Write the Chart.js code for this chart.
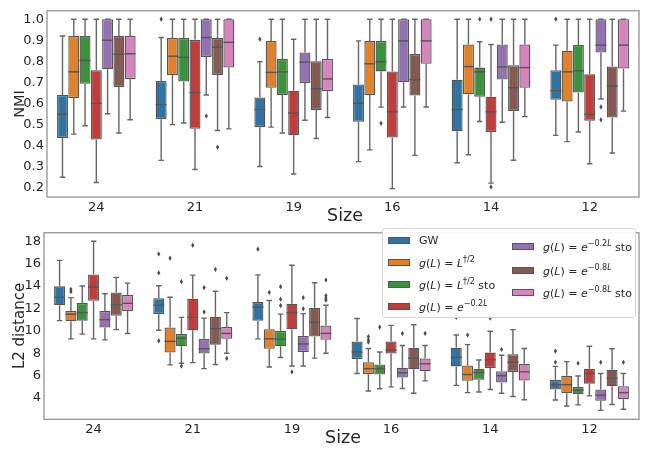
<!DOCTYPE html>
<html>
<head>
<meta charset="utf-8">
<script src="https://cdn.jsdelivr.net/npm/chart.js@4.4.1/dist/chart.umd.min.js"></script>
<style>
  body { margin: 0; background: #fff; font-family: "DejaVu Sans", sans-serif; color: #262626; }
  #wrap { position: relative; width: 649px; height: 454px; overflow: hidden; }
  canvas { position: absolute; left: 0; }
  .title { position: absolute; white-space: nowrap; transform: translate(-50%, -50%); }
  .ytitle { transform: translate(-50%, -50%) rotate(-90deg); }
  #legend { position: absolute; left: 382px; top: 228px; width: 252px; height: 88px;
            background: rgba(255,255,255,0.9); border: 1px solid #d6d6d6; border-radius: 3px; font-size: 11px; }
  .entry { position: absolute; display: flex; align-items: center; white-space: nowrap; }
  .patch { width: 22px; height: 7px; border: 1px solid #555; box-sizing: border-box; margin-right: 9px; }
  .entry i { font-family: "DejaVu Sans", sans-serif; font-style: oblique; }
  sup { font-size: 8px; vertical-align: 5px; }
</style>
</head>
<body>
<div id="wrap">
  <canvas id="nmi" width="649" height="222" style="top:0"></canvas>
  <canvas id="l2" width="649" height="232" style="top:222px"></canvas>
  <div class="title ytitle" style="left:19px; top:104px; font-size:14.5px">NMI</div>
  <div class="title" style="left:345px; top:215px; font-size:17.5px">Size</div>
  <div class="title ytitle" style="left:19px; top:326px; font-size:15px">L2 distance</div>
  <div class="title" style="left:343px; top:437px; font-size:17.5px">Size</div>
  <div id="legend"></div>
</div>
<script>
const sizes = ['24', '21', '19', '16', '14', '12'];
const seriesColors = ['#3274A1', '#E1812C', '#3A923A', '#C03D3E', '#9372B2', '#845B53', '#D684BD'];
const nmiTicks = [0.2, 0.3, 0.4, 0.5, 0.6, 0.7, 0.8, 0.9, 1.0];
const l2Ticks = [4, 6, 8, 10, 12, 14, 16, 18];

// five-number summaries per size: [low whisker, q1, median, q3, high whisker]
const nmiGW    = [[0.249,0.436,0.548,0.640,0.920],[0.329,0.525,0.594,0.706,0.913],[0.300,0.487,0.571,0.628,0.798],[0.323,0.513,0.600,0.690,0.897],[0.318,0.467,0.571,0.712,1.000],[0.448,0.617,0.660,0.758,0.877]];
const nmiSqrt  = [[0.454,0.625,0.750,0.920,1.000],[0.499,0.735,0.824,0.911,1.000],[0.487,0.674,0.747,0.897,1.000],[0.379,0.640,0.788,0.896,1.000],[0.356,0.643,0.775,0.880,1.000],[0.418,0.609,0.750,0.850,1.000]];
const nmiSqrtS = [[0.494,0.693,0.804,0.920,1.000],[0.507,0.704,0.819,0.911,1.000],[0.459,0.640,0.750,0.811,1.000],[0.582,0.752,0.798,0.896,1.000],[0.514,0.631,0.750,0.770,0.893],[0.464,0.652,0.755,0.877,1.000]];
const nmiE02   = [[0.224,0.428,0.600,0.758,1.000],[0.286,0.479,0.651,0.902,1.000],[0.264,0.448,0.554,0.660,0.905],[0.195,0.438,0.560,0.752,1.000],[0.221,0.464,0.560,0.632,0.880],[0.313,0.517,0.548,0.738,1.000]];
const nmiE02S  = [[0.551,0.762,0.900,1.000,1.000],[0.640,0.821,0.913,1.000,1.000],[0.520,0.697,0.796,0.842,1.000],[0.583,0.700,0.897,1.000,1.000],[0.510,0.713,0.773,0.880,1.000],[0.621,0.842,0.877,1.000,1.000]];
const nmiE08   = [[0.459,0.678,0.834,0.920,1.000],[0.471,0.735,0.867,0.911,1.000],[0.433,0.568,0.670,0.800,1.000],[0.353,0.637,0.713,0.835,1.000],[0.330,0.563,0.674,0.781,1.000],[0.364,0.533,0.683,0.775,1.000]];
const nmiE08S  = [[0.522,0.716,0.836,0.920,1.000],[0.479,0.770,0.890,1.000,1.000],[0.533,0.658,0.716,0.811,1.000],[0.583,0.788,0.897,1.000,1.000],[0.537,0.674,0.770,0.880,1.000],[0.563,0.766,0.877,1.000,1.000]];

// outliers per series, per size
const nmiOutGW    = [[], [1.0], [0.905], [], [], [1.0]];
const nmiOutSqrt  = [[], [], [], [], [], []];
const nmiOutSqrtS = [[], [], [], [0.505], [1.0], []];
const nmiOutE02   = [[], [], [], [], [1.0, 0.203], []];
const nmiOutE02S  = [[], [0.54], [], [], [], [0.583, 0.522]];
const nmiOutE08   = [[], [0.392], [], [], [], []];
const nmiOutE08S  = [[], [], [], [], [], []];

const l2GW    = [[10.91,12.29,13.00,13.97,16.29],[10.06,11.49,12.29,12.91,14.03],[9.29,10.91,12.11,12.57,15.00],[6.20,7.49,8.11,9.06,11.11],[5.14,6.83,7.63,8.49,9.63],[3.83,4.77,5.20,5.63,6.83]];
const l2Sqrt  = [[9.29,10.86,11.49,11.77,12.97],[6.97,8.06,9.06,10.31,13.00],[6.77,8.40,9.29,10.14,12.71],[4.63,6.14,6.63,7.20,8.43],[4.49,5.54,6.11,6.91,8.77],[3.29,4.43,5.20,6.00,7.26]];
const l2SqrtS = [[9.71,10.91,11.63,12.49,14.00],[7.11,8.63,9.34,9.71,11.20],[7.63,8.63,9.26,10.00,11.49],[4.83,6.11,6.63,7.00,8.11],[4.54,5.63,6.29,6.63,7.40],[3.40,4.34,4.71,5.00,5.97]];
const l2E02   = [[9.29,12.69,13.91,15.03,18.00],[7.17,10.06,11.20,12.86,14.97],[6.86,10.14,11.63,12.43,15.86],[5.00,7.97,8.29,9.06,10.49],[4.77,6.69,7.43,8.06,9.97],[4.20,5.29,6.20,6.63,8.63]];
const l2E02S  = [[9.20,10.29,11.00,11.77,13.31],[6.63,7.97,8.40,9.29,11.14],[6.86,8.11,8.83,9.54,11.54],[4.86,5.83,6.26,6.71,8.69],[4.43,5.40,6.00,6.40,7.83],[2.91,3.77,4.26,4.77,6.20]];
const l2E08   = [[10.11,11.34,12.34,13.43,14.77],[7.00,8.77,10.20,11.26,13.54],[7.57,9.49,10.77,12.06,14.29],[4.43,6.57,7.57,8.49,10.54],[4.14,6.34,7.20,7.91,10.11],[3.43,5.06,5.77,6.54,8.40]];
const l2E08S  = [[9.77,11.77,12.46,13.20,14.26],[8.00,9.29,9.77,10.34,11.63],[8.00,9.20,9.77,10.49,12.29],[5.54,6.40,7.06,7.54,8.69],[3.86,5.57,6.34,7.06,8.43],[3.00,3.91,4.49,5.06,6.20]];

const l2OutGW    = [[], [16.86, 15.17, 9.11], [17.29], [], [11.2], [8.2, 7.2]];
const l2OutSqrt  = [[13.71, 13.49], [16.49], [13.43], [9.49, 9.2, 9.0], [9.63], []];
const l2OutSqrtS = [[], [14.4, 6.86], [13.94, 12.83, 12.26], [10.34], [], [7.11]];
const l2OutE02   = [[], [17.63], [6.34], [], [11.14], []];
const l2OutE02S  = [[], [13.86, 11.69], [12.97, 11.97], [9.77], [8.34], [7.2]];
const l2OutE08   = [[], [15.49], [], [], [], []];
const l2OutE08S  = [[], [14.69, 7.54], [14.54, 13.14, 12.91, 12.74], [9.77], [], [7.2]];

const legendLabels = [
  'GW',
  '<i>g</i>(<i>L</i>) = <i>L</i><sup>†/2</sup>',
  '<i>g</i>(<i>L</i>) = <i>L</i><sup>†/2</sup> sto',
  '<i>g</i>(<i>L</i>) = <i>e</i><sup>−0.2<i>L</i></sup>',
  '<i>g</i>(<i>L</i>) = <i>e</i><sup>−0.2<i>L</i></sup> sto',
  '<i>g</i>(<i>L</i>) = <i>e</i><sup>−0.8<i>L</i></sup>',
  '<i>g</i>(<i>L</i>) = <i>e</i><sup>−0.8<i>L</i></sup> sto'
];

const edge = '#555555';
const whisker = '#666666';
const tickFont = { family: 'DejaVu Sans', size: 13 };

const boxPlugin = {
  id: 'boxes',
  afterDatasetsDraw(chart) {
    const ctx = chart.ctx;
    const y = chart.scales.y;
    const area = chart.chartArea;
    chart.data.datasets.forEach((ds, i) => {
      const meta = chart.getDatasetMeta(i);
      meta.data.forEach((el, j) => {
        const s = ds.summary[j];
        const x = el.x, w = el.width;
        ctx.save();
        ctx.strokeStyle = whisker;
        ctx.lineWidth = 1.4;
        ctx.beginPath();
        ctx.moveTo(x, y.getPixelForValue(s[3])); ctx.lineTo(x, y.getPixelForValue(s[4]));
        ctx.moveTo(x, y.getPixelForValue(s[1])); ctx.lineTo(x, y.getPixelForValue(s[0]));
        ctx.moveTo(x - w / 4, y.getPixelForValue(s[4])); ctx.lineTo(x + w / 4, y.getPixelForValue(s[4]));
        ctx.moveTo(x - w / 4, y.getPixelForValue(s[0])); ctx.lineTo(x + w / 4, y.getPixelForValue(s[0]));
        ctx.stroke();
        ctx.strokeStyle = edge;
        ctx.beginPath();
        ctx.moveTo(x - w / 2, y.getPixelForValue(s[2])); ctx.lineTo(x + w / 2, y.getPixelForValue(s[2]));
        ctx.stroke();
        ctx.fillStyle = '#4a4a4a';
        ds.outliers[j].forEach(v => {
          const py = y.getPixelForValue(v);
          ctx.beginPath();
          ctx.moveTo(x, py - 2.6); ctx.lineTo(x + 1.6, py); ctx.lineTo(x, py + 2.6); ctx.lineTo(x - 1.6, py);
          ctx.closePath(); ctx.fill();
        });
        ctx.restore();
      });
    });
    ctx.save();
    ctx.strokeStyle = '#8a8a8a';
    ctx.lineWidth = 1.2;
    ctx.strokeRect(area.left, area.top, area.right - area.left, area.bottom - area.top);
    ctx.restore();
  }
};

function makeChart(id, summaries, outliers, ticks, min, max, fmt, yWidth, xHeight, padTop) {
  return new Chart(document.getElementById(id), {
    type: 'bar',
    data: {
      labels: sizes,
      datasets: summaries.map((sm, i) => ({
        data: sm.map(t => [t[1], t[3]]),
        summary: sm,
        outliers: outliers[i],
        backgroundColor: seriesColors[i],
        borderColor: edge,
        borderWidth: 1.3,
        borderSkipped: false,
        barPercentage: 0.97,
        categoryPercentage: 0.8
      }))
    },
    options: {
      responsive: false,
      animation: false,
      layout: { padding: { left: 0, right: 10, top: padTop, bottom: 0 } },
      plugins: { legend: { display: false }, tooltip: { enabled: false } },
      scales: {
        x: {
          grid: { display: false, drawTicks: false },
          border: { display: false },
          ticks: { font: tickFont, color: '#262626', padding: 3 },
          afterFit: s => { s.height = xHeight; }
        },
        y: {
          min: min, max: max,
          grid: { display: false, drawTicks: false },
          border: { display: false },
          ticks: { font: tickFont, color: '#262626', padding: 3, callback: fmt },
          afterBuildTicks: s => { s.ticks = ticks.map(v => ({ value: v })); },
          afterFit: s => { s.width = yWidth; }
        }
      }
    },
    plugins: [boxPlugin]
  });
}

makeChart('nmi',
  [nmiGW, nmiSqrt, nmiSqrtS, nmiE02, nmiE02S, nmiE08, nmiE08S],
  [nmiOutGW, nmiOutSqrt, nmiOutSqrtS, nmiOutE02, nmiOutE02S, nmiOutE08, nmiOutE08S],
  nmiTicks, 0.155, 1.04, v => v.toFixed(1), 47, 25, 4.5);

makeChart('l2',
  [l2GW, l2Sqrt, l2SqrtS, l2E02, l2E02S, l2E08, l2E08S],
  [l2OutGW, l2OutSqrt, l2OutSqrtS, l2OutE02, l2OutE02S, l2OutE08, l2OutE08S],
  l2Ticks, 2.11, 18.75, v => String(v), 44, 34.7, 3.3);

// legend: two columns, matching the reference layout
const legendPos = [[5, 5], [5, 26], [5, 48], [5, 70], [129, 10], [129, 34], [129, 56]];
const legend = document.getElementById('legend');
legendLabels.forEach((lab, i) => {
  const e = document.createElement('div');
  e.className = 'entry';
  e.style.left = legendPos[i][0] + 'px';
  e.style.top = legendPos[i][1] + 'px';
  e.innerHTML = '<span class="patch" style="background:' + seriesColors[i] + '"></span><span>' + lab + '</span>';
  legend.appendChild(e);
});
</script>
</body>
</html>
